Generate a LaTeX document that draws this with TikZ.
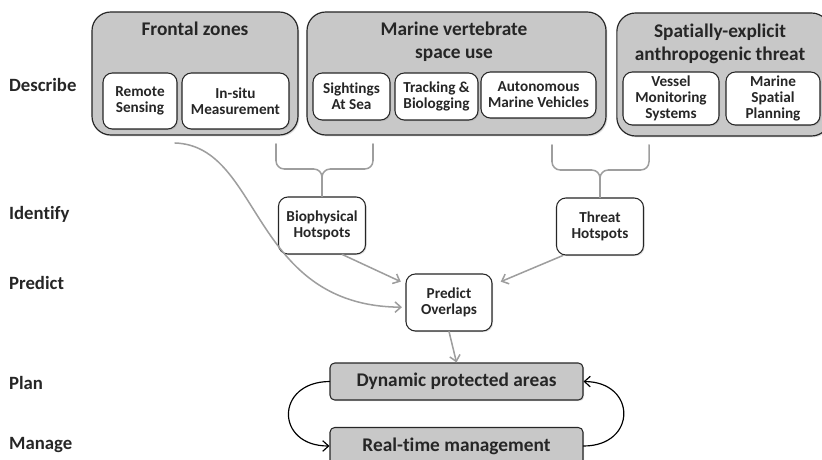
\documentclass[tikz,border=0pt]{standalone}
\usepackage{fontspec}
\setmainfont{Carlito}[Ligatures=NoCommon]
\usepackage{tikz}
\usetikzlibrary{arrows.meta,calc,positioning,shadows}
\definecolor{boxgray}{HTML}{C8C8C8}
\definecolor{linegray}{HTML}{9E9E9E}
\definecolor{inkgray}{HTML}{262626}
\tikzset{
  outerbox/.style={draw=inkgray, line width=1pt, fill=boxgray, rounded corners=16pt,
    drop shadow={opacity=0.25, shadow xshift=1.2pt, shadow yshift=-1.2pt}},
  innerbox/.style={draw=inkgray, line width=0.9pt, fill=white, rounded corners=8pt,
    align=center, inner sep=1pt, text=inkgray, font=\bfseries\fontsize{13}{13.5}\selectfont,
    drop shadow={opacity=0.25, shadow xshift=1pt, shadow yshift=-1pt}},
  midbox/.style={innerbox, minimum width=2.61cm, minimum height=1.71cm},
  planbox/.style={draw=inkgray, line width=0.9pt, fill=boxgray, rounded corners=4pt,
    minimum width=7.59cm, minimum height=1.11cm, text=inkgray,
    font=\bfseries\fontsize{16.5}{18}\selectfont,
    drop shadow={opacity=0.25, shadow xshift=1pt, shadow yshift=-1pt}},
  boxtitle/.style={align=center, text=inkgray, font=\bfseries\fontsize{16.5}{20}\selectfont},
  rowlabel/.style={anchor=west, text=inkgray, font=\bfseries\fontsize{16}{18}\selectfont},
  link/.style={draw=linegray, line width=1.3pt},
  linkarrow/.style={link, -{Straight Barb[length=5pt,width=9pt]}},
  cycle/.style={draw=black, line width=1pt, -{Straight Barb[length=5pt,width=9pt]}},
  every picture/.style={line cap=round, line join=round}
}

\begin{document}
\begin{tikzpicture}[x=0.03cm, y=-0.03cm]
  \clip (0,0) rectangle (822,460);
  \useasboundingbox (0,0) rectangle (822,460);

  % row labels
  \node[rowlabel] (describe) at (5,85) {Describe};
  \node[rowlabel] (identify) at (5,214) {Identify};
  \node[rowlabel] (predict) at (5,283) {Predict};
  \node[rowlabel] (plan) at (5,383) {Plan};
  \node[rowlabel] (manage) at (5,445) {Manage};

  % Describe: data sources
  \node[outerbox, minimum width=6.18cm, minimum height=3.69cm] (fz) at (195,73.5) {};
  \node[boxtitle] (fzt) at (195,29) {Frontal zones};
  \node[innerbox, minimum width=2.22cm, minimum height=1.68cm] (rs) at (140,101) {Remote\\Sensing};
  \node[innerbox, minimum width=3.21cm, minimum height=1.68cm] (is) at (235.5,101) {In-situ\\Measurement};

  \node[outerbox, minimum width=8.97cm, minimum height=3.69cm] (mv) at (456.5,73.5) {};
  \node[boxtitle] (mvt) at (454,42) {Marine vertebrate\\space use};
  \node[innerbox, minimum width=2.31cm, minimum height=1.41cm] (sas) at (351.5,96.5) {Sightings\\At Sea};
  \node[innerbox, minimum width=2.49cm, minimum height=1.41cm] (tb) at (436.5,96.5) {Tracking \&\\Biologging};
  \node[innerbox, minimum width=3.45cm, minimum height=1.38cm] (amv) at (538.5,95) {Autonomous\\Marine Vehicles};

  \node[outerbox, minimum width=6.4cm, minimum height=3.69cm] (at) at (723.5,74.5) {};
  \node[boxtitle] (att) at (720,44) {Spatially-explicit\\anthropogenic threat};
  \node[innerbox, minimum width=2.88cm, minimum height=1.59cm] (vms) at (671,98.5) {Vessel\\Monitoring\\Systems};
  \node[innerbox, minimum width=2.82cm, minimum height=1.59cm] (msp) at (773,98.5) {Marine\\Spatial\\Planning};

  % Identify / Predict
  \node[midbox] (bh) at (322,225.5) {Biophysical\\Hotspots};
  \node[midbox] (th) at (600,226.5) {Threat\\Hotspots};
  \node[midbox, minimum width=2.58cm] (po) at (449,302.5) {Predict\\Overlaps};

  % Plan / Manage
  \node[planbox] (dpa) at (456.5,381.5) {Dynamic protected areas};
  \node[planbox] (rtm) at (456.5,446) {Real-time management};

  % brace ends and curve start
  \coordinate (bl1) at (276,144);
  \coordinate (bl2) at (373,144);
  \coordinate (br1) at (552,145);
  \coordinate (br2) at (649,145);
  \coordinate (fzc) at (175,143);

  \draw[link, rounded corners=7pt] (bl1) -- (276,169) -- (bh.north |- 0,169) -- (bh.north);
  \draw[link, rounded corners=7pt] (bl2) -- (373,169) -- (bh.north |- 0,169) -- (bh.north);
  \draw[link, rounded corners=7pt] (br1) -- (552,170) -- (th.north |- 0,170) -- (th.north);
  \draw[link, rounded corners=7pt] (br2) -- (649,170) -- (th.north |- 0,170) -- (th.north);

  \draw[linkarrow] (fzc) .. controls (262,146) and (250,306) .. ([xshift=-3pt,yshift=-4pt]po.west);
  \draw[linkarrow] (bh.305) -- ([xshift=-4pt,yshift=-7pt]po.north west);
  \draw[linkarrow] (th.218) -- ([xshift=7pt,yshift=-7pt]po.north east);
  \draw[linkarrow] (po.south) -- (dpa.north);

  % plan-manage cycle
  \draw[cycle] (dpa.west) .. controls (275,382) and (275,446) .. (rtm.west);
  \draw[cycle] (rtm.east) .. controls (637,446) and (637,382) .. (dpa.east);
\end{tikzpicture}
\end{document}
